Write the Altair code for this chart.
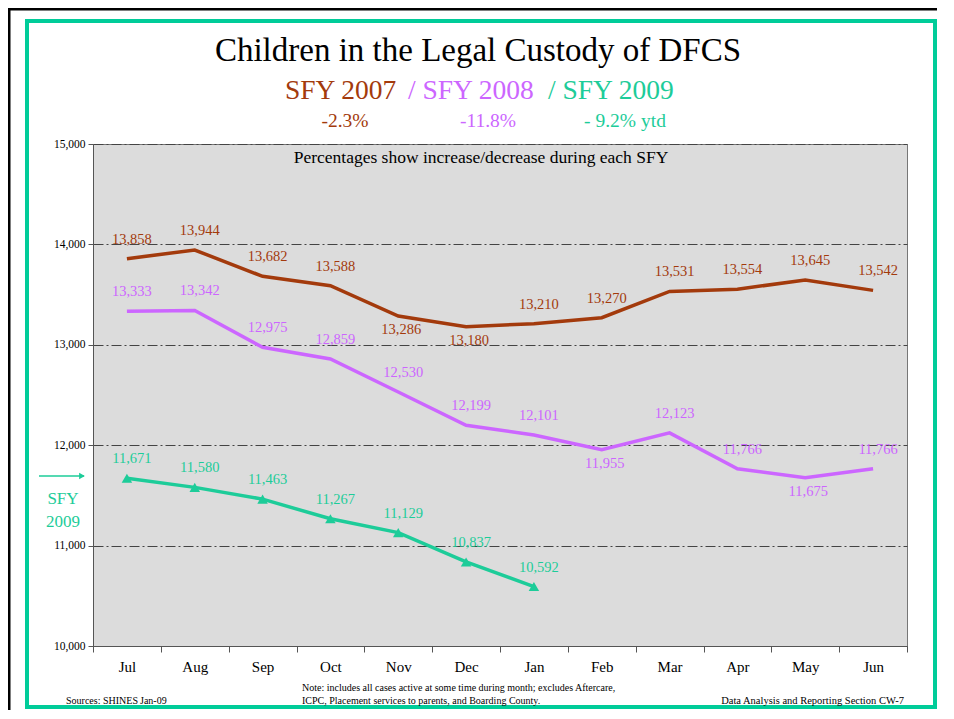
import altair as alt
import pandas as pd

months = ["Jul", "Aug", "Sep", "Oct", "Nov", "Dec", "Jan", "Feb", "Mar", "Apr", "May", "Jun"]
sfy2007 = [13858, 13944, 13682, 13588, 13286, 13180, 13210, 13270, 13531, 13554, 13645, 13542]
sfy2008 = [13333, 13342, 12975, 12859, 12530, 12199, 12101, 11955, 12123, 11766, 11675, 11766]
sfy2009 = [11671, 11580, 11463, 11267, 11129, 10837, 10592]
series_names = ["SFY 2007", "SFY 2008", "SFY 2009"]
series_colors = ["#A33A0C", "#CC66FF", "#1DCC99"]
y_ticks = [10000, 11000, 12000, 13000, 14000, 15000]
# labels drawn under the point instead of above it
labels_below = [("SFY 2007", "Nov"), ("SFY 2007", "Dec"), ("SFY 2008", "Feb"), ("SFY 2008", "May")]

SERIF = "Liberation Serif"
FRAME_GREEN = "#00CC99"

rows = []
for name, vals in zip(series_names, [sfy2007, sfy2008, sfy2009]):
    for m, v in zip(months, vals):
        rows.append({"month": m, "series": name, "value": v,
                     "below": (name, m) in labels_below})
df = pd.DataFrame(rows)

xenc = alt.X("month:N", sort=months,
             scale=alt.Scale(type="band", domain=months, paddingInner=0, paddingOuter=0),
             axis=alt.Axis(title=None, labelAngle=0, labelFont=SERIF, labelFontSize=15,
                           labelColor="black", labelPadding=7, tickBand="extent",
                           tickSize=6, tickColor="#555", domainColor="#555", grid=False))
yenc = alt.Y("value:Q", scale=alt.Scale(domain=[10000, 15000], nice=False, zero=False),
             axis=alt.Axis(title=None, values=y_ticks, format=",d", labelFont=SERIF,
                           labelFontSize=11.5, labelColor="black", labelPadding=3,
                           tickSize=5, tickColor="#555", domainColor="#555",
                           grid=True, gridColor="#444", gridDash=[10, 3, 2, 3], gridWidth=1))
cenc = alt.Color("series:N", scale=alt.Scale(domain=series_names, range=series_colors), legend=None)

base = alt.Chart(df)
lines = base.mark_line(strokeWidth=3.5).encode(x=xenc, y=yenc, color=cenc, detail="series:N")
tris = base.transform_filter(alt.datum.series == "SFY 2009").mark_point(
    shape="triangle-up", filled=True, size=110, opacity=1).encode(x=xenc, y=yenc, color=cenc)
lab_above = base.transform_filter("!datum.below").mark_text(
    font=SERIF, fontSize=14.5, dx=5, dy=-19, baseline="middle").encode(
    x=xenc, y=yenc, color=cenc, text=alt.Text("value:Q", format=",d"))
lab_below = base.transform_filter("datum.below").mark_text(
    font=SERIF, fontSize=14.5, dx=3, dy=14, baseline="middle").encode(
    x=xenc, y=yenc, color=cenc, text=alt.Text("value:Q", format=",d"))


def txt(s, x, y, size, color="black", align="center"):
    return alt.Chart(pd.DataFrame({"t": [s]})).mark_text(
        font=SERIF, fontSize=size, color=color, align=align, baseline="alphabetic").encode(
        text="t:N", x=alt.value(x), y=alt.value(y))


one = pd.DataFrame({"k": [0]})
frame = alt.Chart(one).mark_rect(filled=False, stroke=FRAME_GREEN, strokeWidth=4).encode(
    x=alt.value(-66), x2=alt.value(842), y=alt.value(-123), y2=alt.value(563))
black_left = alt.Chart(one).mark_rule(color="black", strokeWidth=3).encode(
    x=alt.value(-84), y=alt.value(-136), y2=alt.value(566))
black_top = alt.Chart(one).mark_rule(color="black", strokeWidth=3).encode(
    y=alt.value(-135), x=alt.value(-85), x2=alt.value(844))
arrow = alt.Chart(one).mark_rule(color=series_colors[2], strokeWidth=1.5).encode(
    x=alt.value(-54), x2=alt.value(-9), y=alt.value(332))
arrow_head = alt.Chart(one).mark_point(shape="triangle-right", filled=True, size=45,
                                       color=series_colors[2], opacity=1).encode(
    x=alt.value(-11), y=alt.value(332))

texts = [
    txt("Children in the Legal Custody of DFCS", 385, -83, 33),
    txt("SFY 2007", 192, -45, 27.5, series_colors[0], "left"),
    txt("/ SFY 2008", 315, -45, 27.5, series_colors[1], "left"),
    txt("/ SFY 2009", 455, -45, 27.5, series_colors[2], "left"),
    txt("-2.3%", 252, -17, 19.5, series_colors[0]),
    txt("-11.8%", 395, -17, 19.5, series_colors[1]),
    txt("- 9.2% ytd", 532, -17, 19.5, series_colors[2]),
    txt("Percentages show increase/decrease during each SFY", 388, 19, 17.5),
    txt("SFY", -30, 360, 17, series_colors[2]),
    txt("2009", -30, 383, 17, series_colors[2]),
    txt("Sources: SHINES", -27, 560, 10, "black", "left"),
    txt("Jan-09", 47, 560, 10, "black", "left"),
    txt("Note:  includes all cases active at some time during month; excludes Aftercare,", 209, 547, 10, "black", "left"),
    txt("ICPC, Placement services to parents, and Boarding County.", 209, 560, 10, "black", "left"),
    txt("Data Analysis and Reporting Section CW-7", 811, 560, 10.5, "black", "right"),
]

chart = alt.layer(frame, black_left, black_top, lines, tris, lab_above, lab_below,
                  arrow, arrow_head, *texts).properties(
    width=814, height=502,
    padding={"left": 85, "top": 136, "right": 30, "bottom": 64},
    autosize=alt.AutoSizeParams(type="none"),
    background="white",
).configure_view(fill="#DCDCDC", stroke="#777", strokeWidth=1)

chart.save("out.html", embed_options={"renderer": "svg", "actions": False})
